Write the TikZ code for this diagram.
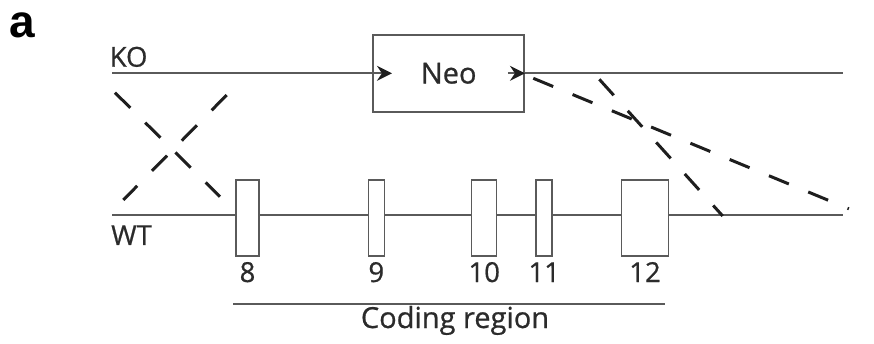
\documentclass[tikz,border=0pt]{standalone}
\usepackage{fontspec}
\setmainfont{Open Sans}[FakeBold=0.7]
\newfontfamily\panelfont{Liberation Sans}
\usetikzlibrary{arrows.meta,positioning}

\definecolor{lineGray}{HTML}{5A5A5A}
\definecolor{textGray}{HTML}{2B2B2B}
\definecolor{dashBlack}{HTML}{1E1E1E}

\tikzset{
  strand/.style={draw=lineGray, line width=1.8pt},
  feed/.style={-{Stealth[length=15pt,width=15pt,inset=5pt,color=dashBlack]}},
  exon/.style={draw=lineGray, fill=white, line width=1.5pt, inner sep=0pt, minimum height=76pt},
  txt/.style={text=textGray, inner sep=0pt, font=\fontsize{27.5}{31}\selectfont},
  crossover/.style={draw=dashBlack, line width=3pt, dash pattern=on 21.5pt off 21pt},
}

\begin{document}
\begin{tikzpicture}[x=1pt,y=-1pt]
  \useasboundingbox (0,0) rectangle (874,344);

  \node[anchor=base west, inner sep=0pt, text=black,
        font=\panelfont\bfseries\fontsize{46}{50}\selectfont] (panel) at (9.5,38) {a};

  % KO allele with the neo cassette
  \node[txt, anchor=base west] (ko) at (109.5,66.7) {KO};
  \node[strand, txt, font=\fontsize{29}{33}\selectfont,
        minimum width=150.7pt, minimum height=76.7pt] (neo) at (448.7,73.3) {Neo};
  \coordinate (ko-start) at (112,73.3);
  \coordinate (ko-end) at (843,73.3);
  \draw[strand, feed] (ko-start) -- ([xshift=19.5pt]neo.west);
  \draw[strand, feed] ([xshift=-17pt]neo.east) -- (neo.east);
  \draw[strand] (neo.east) -- (ko-end);

  % WT allele, exons 8-12
  \node[txt, anchor=base west] (wt) at (111,245) {WT};
  \coordinate (wt-start) at (112,215);
  \coordinate (wt-end) at (843,215);
  \draw[strand] (wt-start) -- (wt-end);
  \foreach \n/\x/\w in {8/247.5/23, 9/376.3/16, 10/484.2/25, 11/544.2/16, 12/645/46.6} {
    \node[exon, minimum width=\w pt] (e\n) at (\x,218) {};
    \node[txt, anchor=base] (n\n) at (\x,282) {\n};
  }

  \coordinate (cds-start) at (233,304);
  \coordinate (cds-end) at (665,304);
  \draw[strand, line width=1.5pt] (cds-start) -- (cds-end);
  \node[txt, font=\fontsize{29}{33}\selectfont, anchor=base] (cds) at (455,328) {Coding region};

  % crossovers
  \coordinate (xl-a) at (115,92.7);
  \coordinate (xl-b) at (220,196.7);
  \coordinate (xl-c) at (226.7,95);
  \coordinate (xl-d) at (123.3,200);
  \coordinate (xr-a) at (533.3,78.3);
  \coordinate (xr-b) at (848.9,208.8);
  \coordinate (xr-c) at (599.3,79.3);
  \coordinate (xr-d) at (722.7,216);
  \draw[crossover] (xl-a) -- (xl-b);
  \draw[crossover] (xl-c) -- (xl-d);
  \draw[crossover] (xr-a) -- (xr-b);
  \draw[crossover] (xr-c) -- (xr-d);
\end{tikzpicture}
\end{document}
